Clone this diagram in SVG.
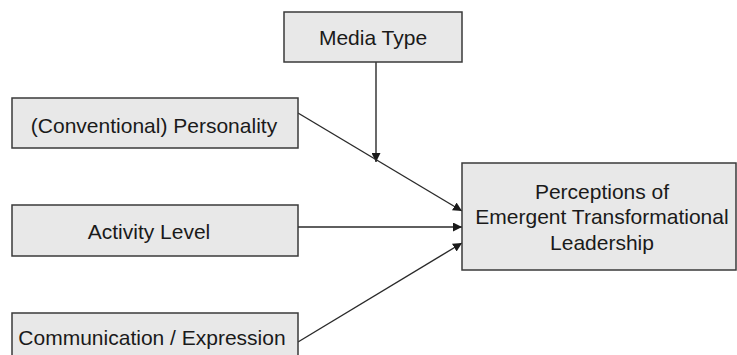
<svg xmlns="http://www.w3.org/2000/svg" width="737" height="355" viewBox="0 0 737 355">
<style>
.box{fill:#e8e8e8;stroke:#3a3a3a;stroke-width:1.5}
.t{font-family:"Liberation Sans",Arial,sans-serif;font-size:21px;fill:#1a1a1a;text-anchor:middle}
.c{stroke:#2a2a2a;stroke-width:1.4;fill:none;marker-end:url(#ah)}
</style>
<defs>
<marker id="ah" viewBox="0 0 10 10" refX="10" refY="5" markerWidth="9" markerHeight="9" markerUnits="userSpaceOnUse" orient="auto">
<path d="M0,0 L10,5 L0,10 z" fill="#1a1a1a"/>
</marker>
</defs>
<rect width="737" height="355" fill="#ffffff"/>
<g id="connectors">
<line class="c" x1="376" y1="62" x2="376" y2="162"/>
<line class="c" x1="298" y1="113" x2="462" y2="211"/>
<line class="c" x1="298" y1="227" x2="462" y2="227"/>
<line class="c" x1="298" y1="342" x2="462" y2="243"/>
</g>
<g id="media-type">
<rect class="box" x="284" y="12" width="178" height="50"/>
<text class="t" x="373" y="45">Media Type</text>
</g>
<g id="personality">
<rect class="box" x="12" y="98" width="286" height="50"/>
<text class="t" x="154" y="133">(Conventional) Personality</text>
</g>
<g id="activity-level">
<rect class="box" x="12" y="205" width="286" height="51"/>
<text class="t" x="149" y="239">Activity Level</text>
</g>
<g id="communication">
<rect class="box" x="12" y="313" width="286" height="60"/>
<text class="t" x="152" y="345">Communication / Expression</text>
</g>
<g id="perceptions">
<rect class="box" x="462" y="163" width="274" height="107"/>
<text class="t" x="602" y="199">Perceptions of</text>
<text class="t" x="602" y="224">Emergent Transformational</text>
<text class="t" x="602" y="250">Leadership</text>
</g>
</svg>
